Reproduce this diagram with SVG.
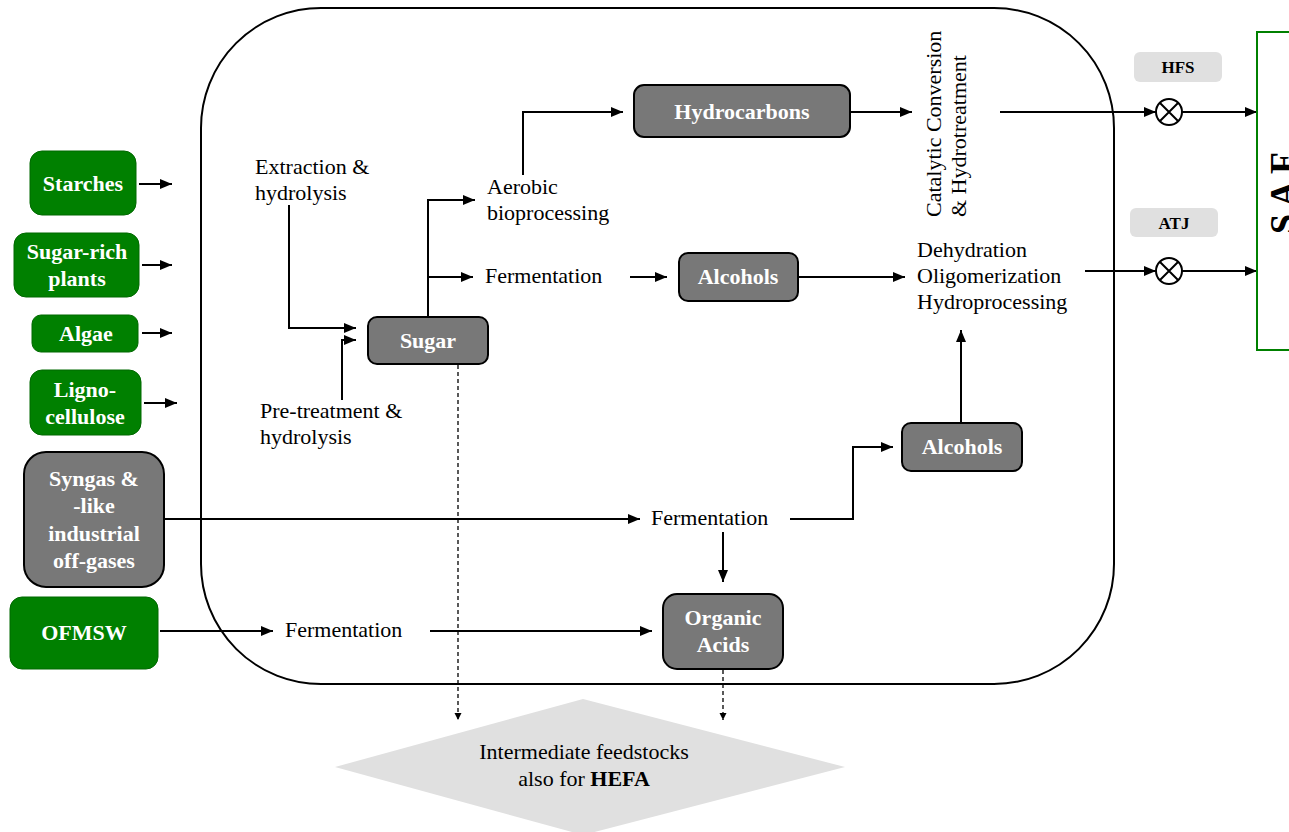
<svg xmlns="http://www.w3.org/2000/svg" width="1289" height="832" viewBox="0 0 1289 832">
<style>
.bg{fill:#ffffff}
.container{fill:none;stroke:#000;stroke-width:2}
.green{fill:#008000;stroke:#006800;stroke-width:1}
.gray{fill:#787878;stroke:#000;stroke-width:2}
.tag{fill:#e0e0e0}
.lbl{font-family:"Liberation Serif","Times New Roman",serif;font-size:22px;font-weight:bold;fill:#ffffff;text-anchor:middle}
.txt{font-family:"Liberation Serif","Times New Roman",serif;font-size:22px;fill:#000}
.tagtxt{font-family:"Liberation Serif","Times New Roman",serif;font-size:17px;font-weight:bold;fill:#000;text-anchor:middle}
.conn{fill:none;stroke:#000;stroke-width:2}
.dash{fill:none;stroke:#000;stroke-width:1.3;stroke-dasharray:4 3}
</style>
<defs>
<marker id="arr" markerUnits="userSpaceOnUse" markerWidth="13" markerHeight="10" refX="12" refY="5" orient="auto"><path d="M0,0 L12,5 L0,10 z" fill="#000"/></marker>
<marker id="arrs" markerUnits="userSpaceOnUse" markerWidth="8" markerHeight="8" refX="7" refY="4" orient="auto"><path d="M0,0.5 L7,4 L0,7.5 z" fill="#000"/></marker>
</defs>
<rect class="bg" x="0" y="0" width="1289" height="832"/>

<g id="container"><rect class="container" x="201" y="8" width="913" height="676" rx="120" ry="120"/></g>

<g id="hefa"><polygon points="335,767 583,699 845,767 583,835" fill="#e0e0e0"/>
<text class="txt" x="584" y="759" text-anchor="middle">Intermediate feedstocks</text>
<text class="txt" x="584" y="786" text-anchor="middle">also for <tspan font-weight="bold">HEFA</tspan></text></g>

<g id="connectors">
<path class="conn" marker-end="url(#arr)" d="M139,184 H172"/>
<path class="conn" marker-end="url(#arr)" d="M142,265 H172"/>
<path class="conn" marker-end="url(#arr)" d="M142,333 H172"/>
<path class="conn" marker-end="url(#arr)" d="M144,403 H177"/>
<path class="conn" marker-end="url(#arr)" d="M289,205 V328 H356"/>
<path class="conn" marker-end="url(#arr)" d="M342,400 V340 H356"/>
<path class="conn" marker-end="url(#arr)" d="M428,317 V200 H475"/>
<path class="conn" marker-end="url(#arr)" d="M428,277 H473"/>
<path class="conn" marker-end="url(#arr)" d="M523,175 V112 H623"/>
<path class="conn" marker-end="url(#arr)" d="M850,112 H912"/>
<path class="conn" marker-end="url(#arr)" d="M630,277 H667"/>
<path class="conn" marker-end="url(#arr)" d="M798,277 H905"/>
<path class="conn" marker-end="url(#arr)" d="M1000,112 H1156"/>
<path class="conn" marker-end="url(#arr)" d="M1182,112 H1257"/>
<path class="conn" marker-end="url(#arr)" d="M1085,271 H1156"/>
<path class="conn" marker-end="url(#arr)" d="M1182,271 H1257"/>
<path class="conn" marker-end="url(#arr)" d="M961,423 V330"/>
<path class="conn" marker-end="url(#arr)" d="M164,519 H640"/>
<path class="conn" marker-end="url(#arr)" d="M790,519 H853 V447 H893"/>
<path class="conn" marker-end="url(#arr)" d="M723,532 V582"/>
<path class="conn" marker-end="url(#arr)" d="M160,631 H273"/>
<path class="conn" marker-end="url(#arr)" d="M430,631 H652"/>
<path class="dash" marker-end="url(#arrs)" d="M458,365 V720"/>
<path class="dash" marker-end="url(#arrs)" d="M723,670 V720"/>
</g>

<g id="starches"><rect class="green" x="30" y="151" width="106" height="64" rx="12"/><text class="lbl" x="83" y="191">Starches</text></g>
<g id="sugar-rich"><rect class="green" x="14" y="233" width="125" height="64" rx="12"/><text class="lbl" x="77" y="259">Sugar-rich</text><text class="lbl" x="77" y="286">plants</text></g>
<g id="algae"><rect class="green" x="32" y="315" width="106" height="37" rx="9"/><text class="lbl" x="86" y="341">Algae</text></g>
<g id="lignocellulose"><rect class="green" x="30" y="370" width="111" height="65" rx="12"/><text class="lbl" x="85" y="397">Ligno-</text><text class="lbl" x="85" y="424">cellulose</text></g>
<g id="syngas"><rect class="gray" x="24" y="452" width="140" height="135" rx="22"/><text class="lbl" x="94" y="486">Syngas &amp;</text><text class="lbl" x="94" y="513">-like</text><text class="lbl" x="94" y="541">industrial</text><text class="lbl" x="94" y="568">off-gases</text></g>
<g id="ofmsw"><rect class="green" x="10" y="597" width="148" height="72" rx="12"/><text class="lbl" x="84" y="640">OFMSW</text></g>

<g id="extraction"><text class="txt" x="255" y="174">Extraction &amp;</text><text class="txt" x="255" y="200">hydrolysis</text></g>
<g id="pretreatment"><text class="txt" x="260" y="418">Pre-treatment &amp;</text><text class="txt" x="260" y="444">hydrolysis</text></g>
<g id="sugar"><rect class="gray" x="368" y="317" width="120" height="47" rx="9"/><text class="lbl" x="428" y="348">Sugar</text></g>
<g id="aerobic"><text class="txt" x="487" y="194">Aerobic</text><text class="txt" x="487" y="220">bioprocessing</text></g>
<g id="fermentation1"><text class="txt" x="485" y="283">Fermentation</text></g>
<g id="hydrocarbons"><rect class="gray" x="634" y="85" width="216" height="52" rx="10"/><text class="lbl" x="742" y="119">Hydrocarbons</text></g>
<g id="alcohols1"><rect class="gray" x="679" y="253" width="119" height="48" rx="9"/><text class="lbl" x="738" y="284">Alcohols</text></g>
<g id="catalytic"><text class="txt" transform="translate(941,217) rotate(-90)">Catalytic Conversion</text><text class="txt" transform="translate(966,217) rotate(-90)">&amp; Hydrotreatment</text></g>
<g id="dehydration"><text class="txt" x="917" y="257">Dehydration</text><text class="txt" x="917" y="283">Oligomerization</text><text class="txt" x="917" y="309">Hydroprocessing</text></g>
<g id="alcohols2"><rect class="gray" x="902" y="423" width="120" height="48" rx="9"/><text class="lbl" x="962" y="454">Alcohols</text></g>
<g id="fermentation2"><text class="txt" x="651" y="525">Fermentation</text></g>
<g id="fermentation3"><text class="txt" x="285" y="637">Fermentation</text></g>
<g id="organic-acids"><rect class="gray" x="663" y="594" width="120" height="75" rx="14"/><text class="lbl" x="723" y="625">Organic</text><text class="lbl" x="723" y="652">Acids</text></g>

<g id="hfs"><rect class="tag" x="1134" y="52" width="88" height="30" rx="6"/><text class="tagtxt" x="1178" y="73">HFS</text>
<circle cx="1169" cy="112" r="13" fill="#fff" stroke="#000" stroke-width="2"/><path d="M1160,103 L1178,121 M1178,103 L1160,121" stroke="#000" stroke-width="2"/></g>
<g id="atj"><rect class="tag" x="1130" y="208" width="88" height="29" rx="6"/><text class="tagtxt" x="1174" y="229">ATJ</text>
<circle cx="1169" cy="271" r="13" fill="#fff" stroke="#000" stroke-width="2"/><path d="M1160,262 L1178,280 M1178,262 L1160,280" stroke="#000" stroke-width="2"/></g>
<g id="saf"><rect x="1257" y="32" width="60" height="318" fill="none" stroke="#008000" stroke-width="2"/>
<text transform="translate(1296,234) rotate(-90)" font-family="Liberation Serif, serif" font-weight="bold" font-size="38" textLength="82" lengthAdjust="spacingAndGlyphs">S A F</text></g>
</svg>
